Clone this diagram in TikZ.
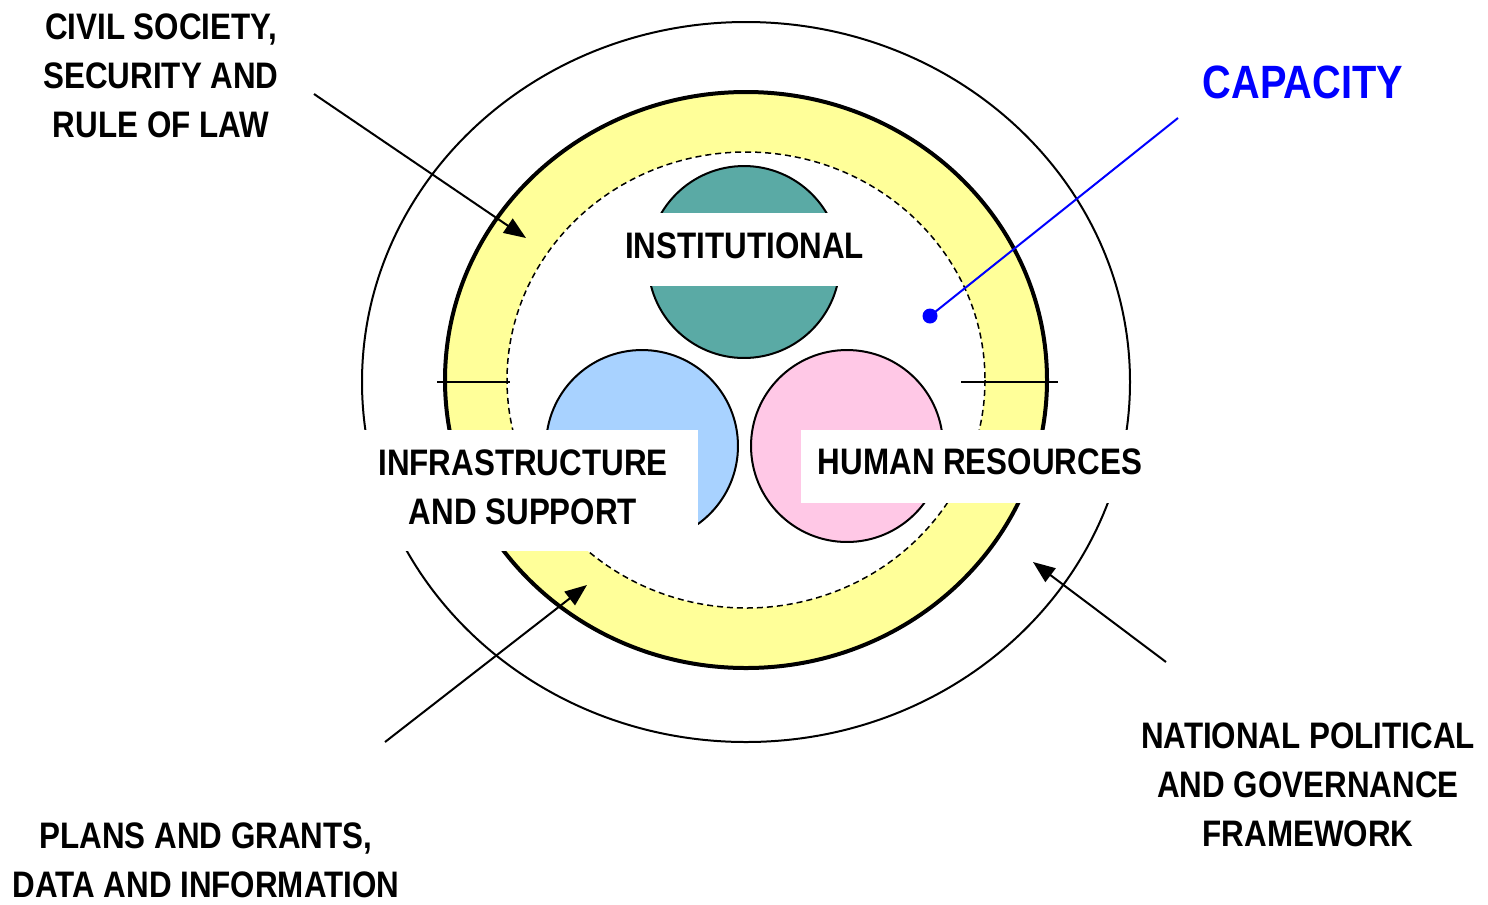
\documentclass[tikz,border=0pt]{standalone}
\usepackage{fontspec}
\newfontfamily\narrowfont{Liberation Sans}[FakeStretch=0.85]
\usetikzlibrary{arrows.meta}

\definecolor{ringyellow}{RGB}{255,255,153}
\definecolor{discteal}{RGB}{90,170,165}
\definecolor{discblue}{RGB}{168,210,255}
\definecolor{discpink}{RGB}{255,200,230}
\definecolor{capblue}{RGB}{0,0,255}

\begin{document}
\begin{tikzpicture}
    [ x=0.02cm, y=-0.02cm,
      every node/.style={font=\narrowfont\bfseries\fontsize{21}{27.9}\selectfont,
        align=center, inner sep=0pt},
      thin-line/.style={line width=0.04cm},
      disc/.style={
        shape=circle, draw, line width=0.04cm,
        minimum size=3.84cm, inner sep=0pt
      },
      mask/.style={fill=white},
      pointer/.style={line width=0.04cm,
        -{Triangle[length=0.44cm, width=0.34cm]}},
      cap-txt/.style={text=capblue,
        font=\narrowfont\bfseries\fontsize{26.6}{30}\selectfont}]
      \useasboundingbox (0,0) rectangle (1488,904);

      % rings
      \draw [thin-line] (746,382) ellipse [x radius=384, y radius=360];
      \draw [line width=0.08cm, fill=ringyellow]
        (746,380) ellipse [x radius=301, y radius=288];
      \draw [line width=0.03cm, dash pattern=on 0.12cm off 0.08cm, fill=white]
        (746,380) ellipse [x radius=239, y radius=228];
      \draw [thin-line] (437,382) -- (510,382);
      \draw [thin-line] (961,382) -- (1058,382);

      % the three discs
      \node [disc, fill=discteal] (inst-disc) at (744,262) {};
      \node [disc, fill=discblue] (infra-disc) at (642,446) {};
      \node [disc, fill=discpink] (human-disc) at (847,446) {};

      % label backgrounds
      \fill [mask] (620,213) rectangle (870,286);
      \fill [mask] (350,430) rectangle (698,551);
      \fill [mask] (801,430) rectangle (1145,503);

      \node (inst) at (744.5,246) {INSTITUTIONAL};
      \node (infra) at (523,487) {INFRASTRUCTURE\\AND SUPPORT};
      \node (human) at (980,462) {HUMAN RESOURCES};

      \node (civil) at (161,76) {CIVIL SOCIETY,\\SECURITY AND\\RULE OF LAW};
      \node (plans) at (206,860) {PLANS AND GRANTS,\\DATA AND INFORMATION};
      \node (natl) at (1308,785) {NATIONAL POLITICAL\\AND GOVERNANCE\\FRAMEWORK};
      \node [cap-txt] (cap) at (1303,82.5) {CAPACITY};

      % arrows into the rings
      \coordinate (civil-end) at (314,94);
      \coordinate (civil-tip) at (526,238);
      \coordinate (plans-end) at (385,742);
      \coordinate (plans-tip) at (587,585);
      \coordinate (natl-end) at (1166,662);
      \coordinate (natl-tip) at (1033,562);
      \draw [pointer] (civil-end) -- (civil-tip);
      \draw [pointer] (plans-end) -- (plans-tip);
      \draw [pointer] (natl-end) -- (natl-tip);

      % capacity pointer
      \node [shape=circle, fill=capblue, minimum size=0.3cm] (cap-dot) at (930,316) {};
      \coordinate (cap-end) at (1178,118);
      \draw [capblue, line width=0.04cm] (cap-end) -- (cap-dot.center);
  \end{tikzpicture}
\end{document}
